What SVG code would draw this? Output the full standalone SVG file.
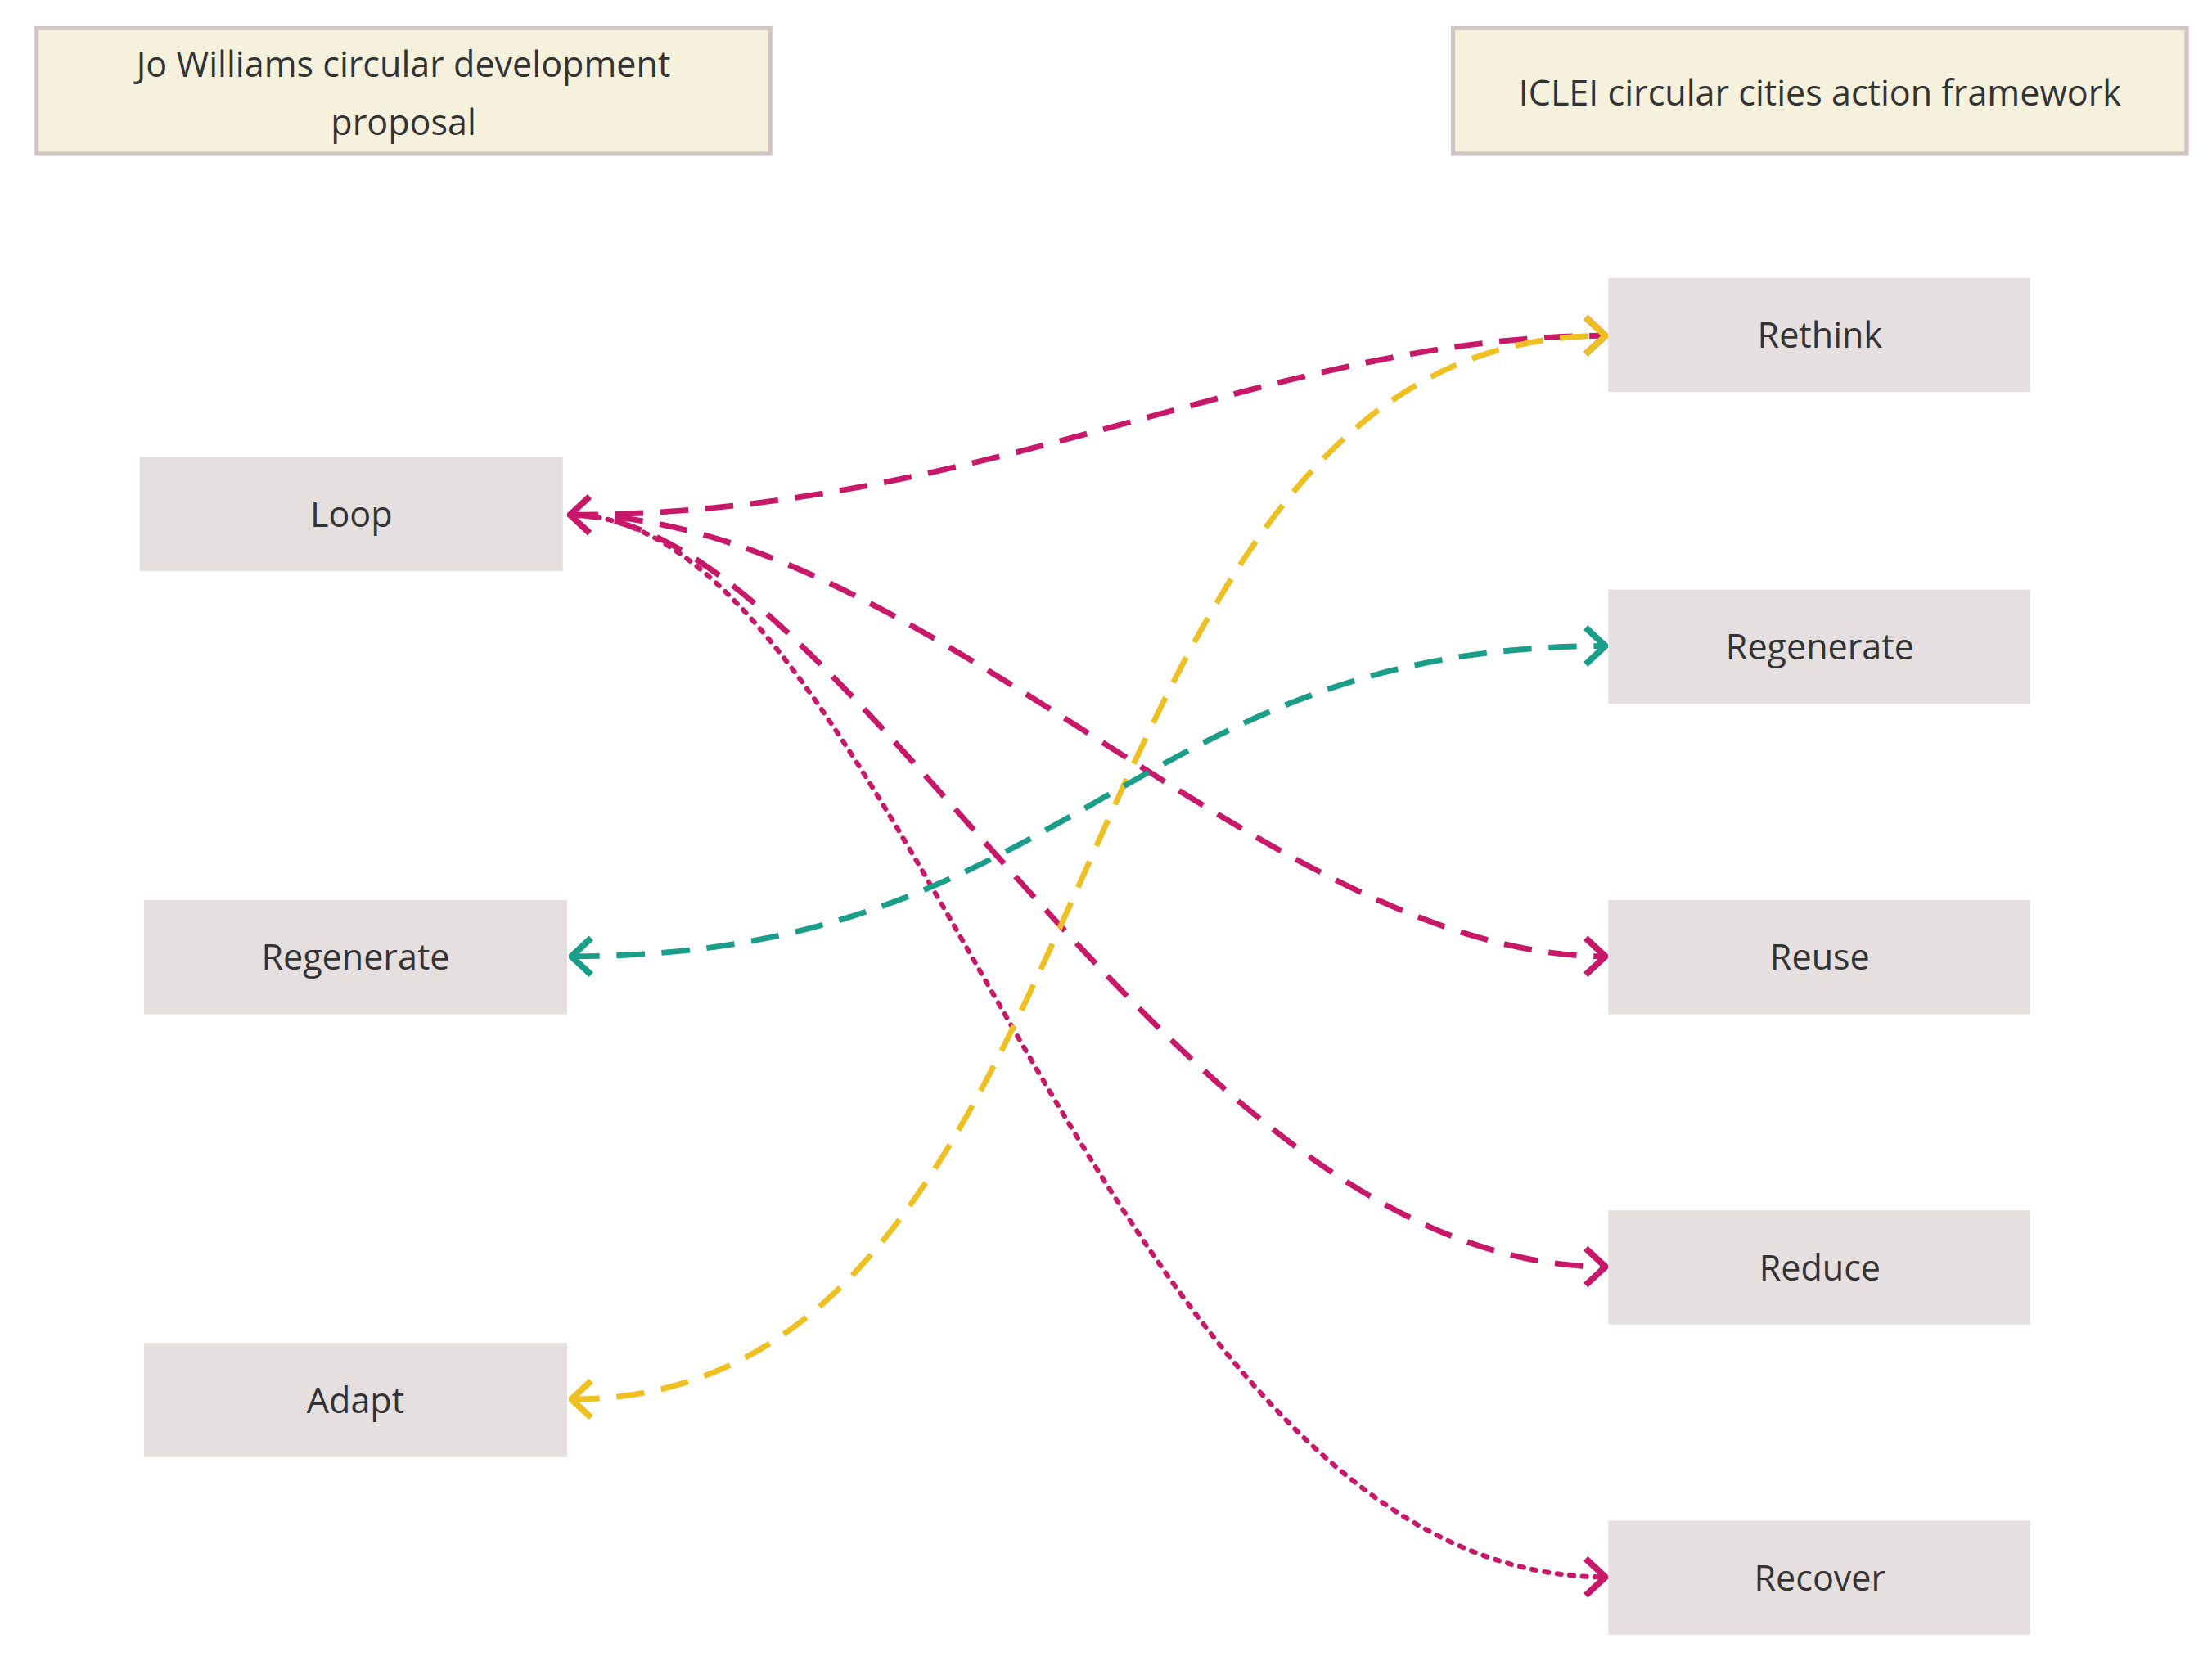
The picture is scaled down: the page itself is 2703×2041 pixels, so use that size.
<svg xmlns="http://www.w3.org/2000/svg" width="2703" height="2041" viewBox="0 0 2703 2041">
<style>
.hdr{fill:#f6f1dd;stroke:#d2c3c3;stroke-width:3}
.nd{fill:#e6dfdf}
.t{font-family:"Open Sans","Noto Sans",sans-serif;font-size:25px;fill:#333;text-anchor:middle;dominant-baseline:central}
.c{fill:none;stroke-width:4;stroke-dasharray:20 12}
.pk{stroke:#c8186a}
.yl{stroke:#eec022}
.tl{stroke:#1a9e8a}
.dot{stroke-dasharray:3 6;stroke-width:3.5;stroke-linecap:round}
</style>
<defs>
<marker id="ap" viewBox="0 0 20 30" refX="18" refY="15" markerWidth="20" markerHeight="30" markerUnits="userSpaceOnUse" orient="auto-start-reverse"><path d="M4,2 L18,15 L4,28" fill="none" stroke="#c8186a" stroke-width="4.5"/></marker>
<marker id="ay" viewBox="0 0 20 30" refX="18" refY="15" markerWidth="20" markerHeight="30" markerUnits="userSpaceOnUse" orient="auto-start-reverse"><path d="M4,2 L18,15 L4,28" fill="none" stroke="#eec022" stroke-width="4.5"/></marker>
<marker id="at" viewBox="0 0 20 30" refX="18" refY="15" markerWidth="20" markerHeight="30" markerUnits="userSpaceOnUse" orient="auto-start-reverse"><path d="M4,2 L18,15 L4,28" fill="none" stroke="#1a9e8a" stroke-width="4.5"/></marker>
</defs>
<g transform="scale(1.7239)">
<g id="connectors">
<path class="c pk" d="M404,365 C700,365 900,238 1138,238" marker-start="url(#ap)" marker-end="url(#ap)"/>
<path class="c pk" d="M404,365 C650,365 900,678 1138,678" marker-end="url(#ap)"/>
<path class="c pk" d="M404,365 C600,365 830,898 1138,898" marker-end="url(#ap)"/>
<path class="c pk dot" d="M404,365 C640,365 780,1118 1138,1118" marker-end="url(#ap)"/>
<path class="c yl" d="M405,992 C800,992 740,238 1138,238" marker-start="url(#ay)" marker-end="url(#ay)"/>
<path class="c tl" d="M405,678 C760,678 800,458 1138,458" marker-start="url(#at)" marker-end="url(#at)"/>
</g>
<g id="h1"><rect class="hdr" x="26" y="20" width="520" height="89"/><text class="t" x="286" y="45">Jo Williams circular development</text><text class="t" x="286" y="86">proposal</text></g>
<g id="h2"><rect class="hdr" x="1030" y="20" width="520" height="89"/><text class="t" x="1290" y="65">ICLEI circular cities action framework</text></g>
<g id="loop"><rect class="nd" x="99" y="324" width="300" height="81"/><text class="t" x="249" y="364">Loop</text></g>
<g id="regenL"><rect class="nd" x="102" y="638" width="300" height="81"/><text class="t" x="252" y="678">Regenerate</text></g>
<g id="adapt"><rect class="nd" x="102" y="952" width="300" height="81"/><text class="t" x="252" y="992">Adapt</text></g>
<g id="rethink"><rect class="nd" x="1140" y="197" width="299" height="81"/><text class="t" x="1290" y="237">Rethink</text></g>
<g id="regenR"><rect class="nd" x="1140" y="418" width="299" height="81"/><text class="t" x="1290" y="458">Regenerate</text></g>
<g id="reuse"><rect class="nd" x="1140" y="638" width="299" height="81"/><text class="t" x="1290" y="678">Reuse</text></g>
<g id="reduce"><rect class="nd" x="1140" y="858" width="299" height="81"/><text class="t" x="1290" y="898">Reduce</text></g>
<g id="recover"><rect class="nd" x="1140" y="1078" width="299" height="81"/><text class="t" x="1290" y="1118">Recover</text></g>
</g>
</svg>
